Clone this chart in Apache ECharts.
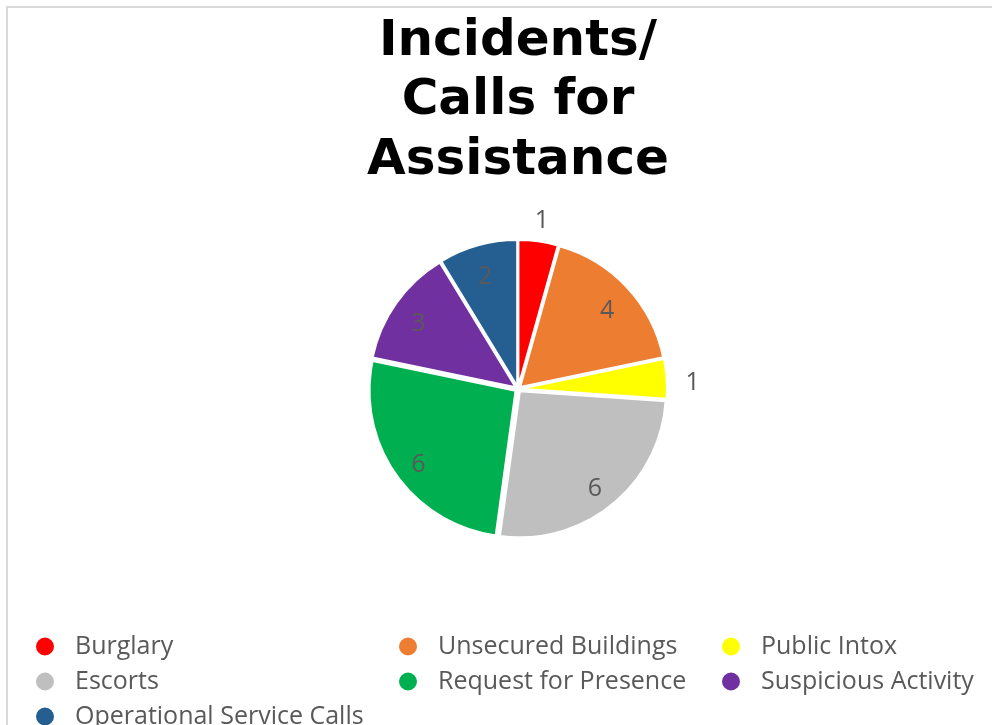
<!DOCTYPE html>
<html>
<head>
<meta charset="utf-8">
<script src="https://cdn.jsdelivr.net/npm/echarts@6/dist/echarts.min.js"></script>
<style>
html,body{margin:0;padding:0;background:#fff;}
#c{width:992px;height:725px;}
</style>
</head>
<body>
<div id="c"></div>
<script>
const categories = ['Burglary','Unsecured Buildings','Public Intox','Escorts','Request for Presence','Suspicious Activity','Operational Service Calls'];
const values = [1,4,1,6,6,3,2];
const colors = ['#FF0000','#ED7D31','#FFFF00','#BFBFBF','#00B050','#7030A0','#255E91'];
const legendCol1 = ['Burglary','Escorts','Operational Service Calls'];
const legendCol2 = ['Unsecured Buildings','Request for Presence'];
const legendCol3 = ['Public Intox','Suspicious Activity'];
const titleText = 'Incidents/\nCalls for\nAssistance';

const CX = 518, CY = 389, R = 146;
const labelRich = {v:{fontFamily:'Open Sans', fontSize:25, color:'#595959', padding:[11,0,0,0]}};

const mainData = categories.map((n,i)=>({name:n, value:values[i], selected:true, itemStyle:{color:colors[i]}}));
const plainData = categories.map((n,i)=>({name:n, value:values[i]}));

function legend(data, left){
  return {
    data: data, orient:'vertical', left:left, top:634, height:110, icon:'circle',
    itemWidth:20, itemHeight:20, itemGap:10, padding:0,
    selectedMode:false,
    textStyle:{fontFamily:'Open Sans', fontSize:25, color:'#595959', padding:[0,0,0,15]}
  };
}

const chart = echarts.init(document.getElementById('c'), null, {renderer:'canvas'});
chart.setOption({
  animation:false,
  backgroundColor:'#fff',
  color: colors,
  title:{
    text:titleText, left:CX, textAlign:'center', top:12, padding:0,
    textStyle:{fontFamily:'DejaVu Sans', fontWeight:'bold', fontSize:50, color:'#000', lineHeight:59.5}
  },
  graphic:[{type:'rect', shape:{x:7, y:7, width:1000, height:740}, style:{fill:'none', stroke:'#d9d9d9', lineWidth:2}, silent:true}],
  legend:[legend(legendCol1,34), legend(legendCol2,397), legend(legendCol3,720)],
  series:[
    {
      type:'pie', center:[CX,CY], radius:[0,R], startAngle:90, clockwise:true,
      selectedMode:'multiple', selectedOffset:3,
      data: mainData,
      label:{show:false}, labelLine:{show:false},
      itemStyle:{borderColor:'#fff', borderWidth:2},
      select:{itemStyle:{borderColor:'#fff', borderWidth:2}},
      emphasis:{disabled:true}, silent:true
    },
    {
      type:'pie', center:[CX,CY], radius:[92,R], startAngle:90, clockwise:true,
      data: plainData, silent:true,
      itemStyle:{color:'rgba(0,0,0,0)'},
      label:{show:true, position:'inside', rich:labelRich, formatter:p=>p.value>1?'{v|'+p.value+'}':''},
      labelLine:{show:false}, emphasis:{disabled:true}, legendHoverLink:false
    },
    {
      type:'pie', center:[CX,CY], radius:[150,194], startAngle:90, clockwise:true,
      data: plainData, silent:true,
      itemStyle:{color:'rgba(0,0,0,0)'},
      label:{show:true, position:'inside', rich:labelRich, formatter:p=>p.value===1?'{v|'+p.value+'}':''},
      labelLine:{show:false}, emphasis:{disabled:true}, legendHoverLink:false
    }
  ]
});
</script>
</body>
</html>
